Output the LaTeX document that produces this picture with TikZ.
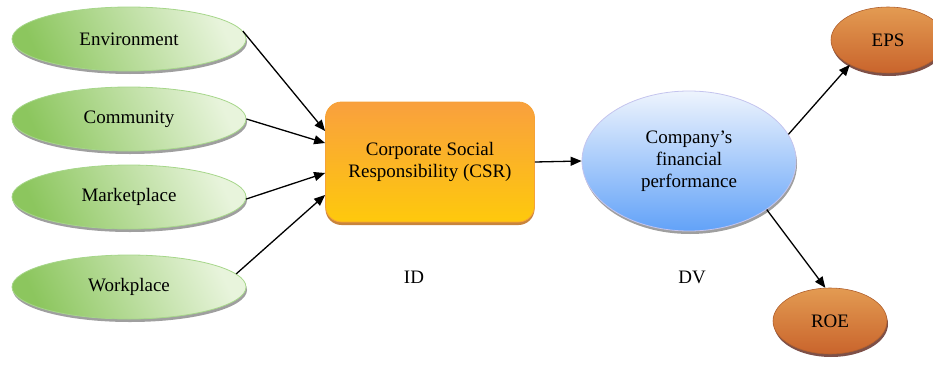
\documentclass[tikz,border=0pt]{standalone}
\usepackage{fontspec}
\setmainfont{Liberation Serif}
\usetikzlibrary{shapes.geometric,arrows.meta,shadows}

\definecolor{greenDark}{HTML}{8CC65E}
\definecolor{greenLight}{HTML}{E8F4DC}
\definecolor{greenLine}{HTML}{A6D68A}
\definecolor{csrTop}{HTML}{F9A03E}
\definecolor{csrBottom}{HTML}{FEC90C}
\definecolor{csrLine}{HTML}{F6A236}
\definecolor{csrShadow}{HTML}{C8843C}
\definecolor{blueTop}{HTML}{EEF4FD}
\definecolor{blueBottom}{HTML}{62A2F8}
\definecolor{blueLine}{HTML}{C4C4EE}
\definecolor{rustTop}{HTML}{E39B52}
\definecolor{rustBottom}{HTML}{C9642C}
\definecolor{rustLine}{HTML}{B0602E}
\definecolor{rustShadow}{HTML}{7E5048}

\tikzset{
  txt/.style={font=\fontsize{19}{22}\selectfont, text=black},
  factor/.style={txt, ellipse, draw=greenLine, line width=0.8pt,
    top color=greenLight, bottom color=greenDark, shading angle=-65,
    minimum width=234pt, minimum height=64pt, inner sep=0pt,
    drop shadow={shadow xshift=1pt, shadow yshift=-3pt, fill=gray!75, opacity=1}},
  csrbox/.style={txt, rectangle, rounded corners=16pt, draw=csrLine, line width=0.8pt,
    top color=csrTop, bottom color=csrBottom,
    minimum width=209pt, minimum height=120pt, align=center,
    drop shadow={shadow xshift=0pt, shadow yshift=-3pt, fill=csrShadow, opacity=1}},
  perfell/.style={txt, ellipse, draw=blueLine, line width=0.8pt,
    top color=blueTop, bottom color=blueBottom,
    minimum width=214pt, minimum height=140pt, inner sep=0pt, align=center,
    drop shadow={shadow xshift=1pt, shadow yshift=-3pt, fill=gray!75, opacity=1}},
  measure/.style={txt, ellipse, draw=rustLine, line width=0.6pt,
    top color=rustTop, bottom color=rustBottom,
    minimum width=114pt, minimum height=66pt, inner sep=0pt,
    drop shadow={shadow xshift=1pt, shadow yshift=-3pt, fill=rustShadow, opacity=1}},
  link/.style={line width=1.3pt, -{Triangle[length=11pt,width=9pt]}},
  tag/.style={txt}
}

\begin{document}
\begin{tikzpicture}[x=1pt,y=-1pt]
  \useasboundingbox (0,0) rectangle (933,364);

  % independent dimensions
  \node[factor] (env)  at (129,39)  {Environment};
  \node[factor] (comm) at (129,119) {Community};
  \node[factor] (mkt)  at (129,197) {Marketplace};
  \node[factor] (work) at (129,287) {Workplace};

  % CSR block and the performance ellipse
  \node[csrbox]  (csr)  at (430,162) {Corporate Social\\Responsibility (CSR)};
  \node[perfell] (perf) at (689,161) {Company’s\\financial\\performance};

  % financial measures
  \node[measure] (eps) at (888,40)  {EPS};
  \node[measure] (roe) at (830,321) {ROE};

  % variable labels
  \node[tag] (id) at (414,277) {ID};
  \node[tag] (dv) at (692,277) {DV};

  % connectors
  \draw[link] (env.4)  -- ([yshift=31pt]csr.west);
  \draw[link] (comm.0) -- ([yshift=19pt]csr.west);
  \draw[link] (mkt.-1) -- ([yshift=-11pt]csr.west);
  \draw[link] (work.7) -- ([yshift=-33pt]csr.west);
  \draw[link] (csr.east) -- (perf.west);
  \draw[link] (perf.15)  -- (eps.213);
  \draw[link] (perf.-32) -- (roe.98);
\end{tikzpicture}
\end{document}
